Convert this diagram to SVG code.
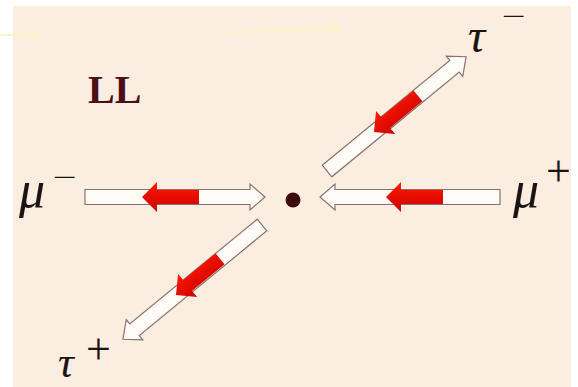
<svg xmlns="http://www.w3.org/2000/svg" width="578" height="387" viewBox="0 0 578 387">
<defs>
<style>
.out{fill:#fffcf8;stroke:#8a7070;stroke-width:1.2;stroke-linejoin:miter}
.red{fill:url(#rg)}
.sym{font-family:"Liberation Serif",serif;font-style:italic;fill:#1a1414}
.sup{font-family:"Liberation Serif",serif;fill:#1a1414}
.faint{stroke:#fff3c4;stroke-width:2;fill:none}
</style>
<linearGradient id="rg" x1="0" y1="0" x2="0" y2="1">
<stop offset="0" stop-color="#ff1a00"/>
<stop offset="1" stop-color="#cc0000"/>
</linearGradient>
<path id="outline" d="M0,-7.5 H165 V-13 L180,0 L165,13 V7.5 H0 Z"/>
<path id="redarrow" d="M0,0 L15,-15 V-7 H57 V7 H15 V15 Z"/>
</defs>
<rect x="0" y="0" width="578" height="387" fill="#ffffff"/>
<rect x="13" y="6" width="558" height="381" fill="#fbeddf"/>
<g id="faint-lines">
<path class="faint" d="M0,35 H45"/>
<path class="faint" d="M230,32.5 L340,27.5 M328,21.5 L340,27.5 L328,35"/>
</g>
<g id="label-LL"><text x="88" y="103" font-family="Liberation Serif,serif" font-weight="bold" font-size="40" fill="#4a1018">LL</text></g>
<g id="vertex"><circle cx="293" cy="200" r="7.5" fill="#3d0a10"/></g>
<g id="connectors">
<g id="arrow-mu-minus">
<use href="#outline" class="out" transform="translate(85,197)"/>
<use href="#redarrow" class="red" transform="translate(142,197)"/>
</g>
<g id="arrow-mu-plus">
<use href="#outline" class="out" transform="translate(500,197) rotate(180)"/>
<use href="#redarrow" class="red" transform="translate(386,197)"/>
</g>
<g id="arrow-tau-minus">
<use href="#outline" class="out" transform="translate(327,171) rotate(-39.4)"/>
<use href="#redarrow" class="red" transform="translate(374,132) rotate(-39.4)"/>
</g>
<g id="arrow-tau-plus">
<use href="#outline" class="out" transform="translate(262,225) rotate(140.6)"/>
<use href="#redarrow" class="red" transform="translate(176,295) rotate(-39.4)"/>
</g>
</g>
<g id="label-mu-minus"><text class="sym" x="19" y="207" font-size="52">μ</text><text class="sup" x="53" y="185.5" font-size="26" textLength="24" lengthAdjust="spacingAndGlyphs">−</text></g>
<g id="label-mu-plus"><text class="sym" x="513" y="207" font-size="52">μ</text><text class="sup" x="546" y="186" font-size="44">+</text></g>
<g id="label-tau-minus"><text class="sym" x="468" y="52" font-size="48">τ</text><text class="sup" x="502" y="24.5" font-size="26" textLength="24" lengthAdjust="spacingAndGlyphs">−</text></g>
<g id="label-tau-plus"><text class="sym" x="58" y="377" font-size="44">τ</text><text class="sup" x="86" y="364" font-size="44">+</text></g>
</svg>
